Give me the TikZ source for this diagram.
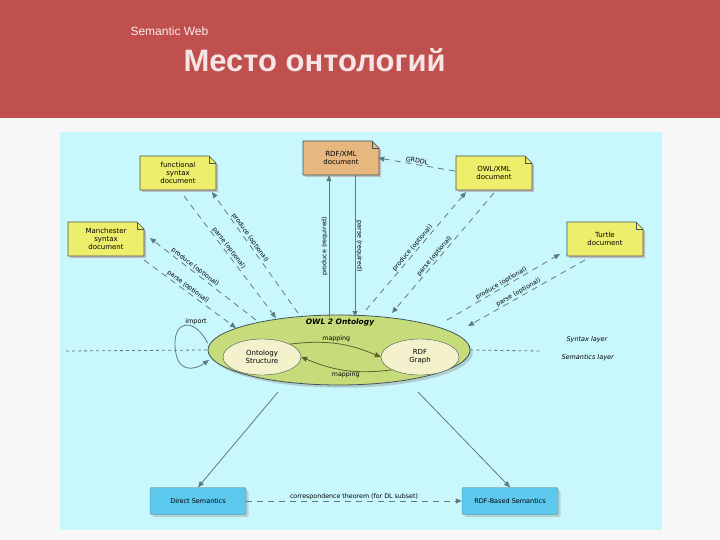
\documentclass[tikz,border=0pt]{standalone}
\usepackage{fontspec}
\setmainfont{DejaVu Sans}
\newfontfamily\titlefont{Liberation Sans}
\usetikzlibrary{shapes.geometric,shapes.misc,arrows.meta,calc,shadows}
\definecolor{hdr}{HTML}{C0504D}
\definecolor{panel}{HTML}{C9F8FC}
\definecolor{docy}{HTML}{EDEF6C}
\definecolor{doco}{HTML}{E6B77E}
\definecolor{ontg}{HTML}{C6DC7A}
\definecolor{inner}{HTML}{F4F2CC}
\definecolor{semb}{HTML}{5CC8EE}
\definecolor{arr}{HTML}{5F7A80}
\tikzset{
 doc/.style={minimum width=74pt,minimum height=34pt,align=center,font=\fontsize{7}{8}\selectfont,inner sep=1pt},
 semb/.style={draw=arr,fill=semb,rounded corners=2pt,minimum width=96pt,minimum height=27pt,font=\fontsize{6.5}{7.5}\selectfont,drop shadow={opacity=0.3}},
 arw/.style={draw=arr,line width=0.8pt,-{Triangle[length=6pt,width=5pt]}},
 dsh/.style={arw,dash pattern=on 6pt off 5pt},
 lbl/.style={font=\fontsize{6.3}{7}\selectfont,sloped,inner sep=1pt},
 lay/.style={font=\itshape\fontsize{6.5}{7.5}\selectfont}
}
\begin{document}
\begin{tikzpicture}[x=1pt,y=-1pt]
\useasboundingbox (0,0) rectangle (720,540);
\fill[white!94!gray] (0,0) rectangle (720,540);
\fill[hdr] (0,0) rectangle (720,118);
\node[anchor=west,text=white!90!hdr,font=\titlefont\fontsize{12}{14}\selectfont] (st) at (127,31) {Semantic Web};
\node[anchor=west,text=white!85!hdr,font=\titlefont\bfseries\fontsize{31}{34}\selectfont] (tt) at (180,60) {Место онтологий};
\fill[panel] (60,132) rectangle (662,530);

% documents
\foreach \n/\x/\y/\c/\t in {fs/140/190/docy/{functional\\syntax\\document},
 ms/68/256/docy/{Manchester\\syntax\\document},
 rx/303/175/doco/{RDF/XML\\document},
 ox/456/190/docy/{OWL/XML\\document},
 tu/567/256/docy/{Turtle\\document}}{
 \fill[black!25] (\x+2,\y+2) -- ++(0,-34) -- ++(69,0) -- ++(7,7) -- ++(0,27) -- cycle;
 \filldraw[draw=arr!70!black,fill=\c,line width=0.6pt] (\x,\y) -- ++(0,-34) -- ++(69,0) -- ++(7,7) -- ++(0,27) -- cycle;
 \draw[arr!70!black,line width=0.6pt] (\x+69,\y-34) -- ++(0,7) -- ++(7,0);
 \node[doc] (\n) at (\x+38,\y-17) {\t};
}

% ontology
\node[ellipse,draw=arr!70!black,fill=ontg,line width=0.8pt,minimum width=262pt,minimum height=70pt,drop shadow={opacity=0.35}] (owl) at (339,350) {};
\node[font=\bfseries\itshape\fontsize{7.5}{9}\selectfont] (owlt) at (340,322) {OWL 2 Ontology};
\node[ellipse,draw=arr!70!black,fill=inner,minimum width=78pt,minimum height=36pt,align=center,font=\fontsize{7}{8}\selectfont,inner sep=0pt] (os) at (262,357) {Ontology\\Structure};
\node[ellipse,draw=arr!70!black,fill=inner,minimum width=78pt,minimum height=36pt,align=center,font=\fontsize{7}{8}\selectfont,inner sep=0pt] (rg) at (420,357) {RDF\\Graph};
\draw[arw,draw=olive!60!black] (os.north east) to[bend left=15] node[lbl,above,sloped=false] {mapping} (rg.west);
\draw[arw,draw=olive!60!black] (rg.south west) to[bend left=15] node[lbl,below,sloped=false] {mapping} (os.east);

% layer line
\coordinate (l1) at (66,351);
\coordinate (l2) at (540,351);
\draw[arr,line width=0.8pt,dash pattern=on 3pt off 3pt] (l1) -- (owl.west);
\draw[arr,line width=0.8pt,dash pattern=on 3pt off 3pt] (owl.east) -- (l2);
\node[lay,anchor=west] (sl) at (563,340) {Syntax layer};
\node[lay,anchor=west] (sml) at (558,358) {Semantics layer};

% import loop
\draw[arw] (owl.west) ++(0,-7) coordinate (i1) .. controls (195,318) and (175,320) .. (175,343) .. controls (175,375) and (195,370) .. (209,360);
\node[font=\fontsize{6.5}{7.5}\selectfont] (imp) at (196,322) {import};

% RDF/XML
\coordinate (p1) at (329,317);
\coordinate (p2) at (355,317);
\draw[arw] (p1) -- node[lbl,above] {produce (required)} (p1 |- rx.south);
\draw[arw] (p2 |- rx.south) -- node[lbl,above,allow upside down] {parse (required)} (p2);

% functional
\coordinate (f1) at (298,313);
\coordinate (f2) at (276,318);
\coordinate (fs1) at (212,192);
\coordinate (fs2) at (184,196);
\draw[dsh] (f1) -- node[lbl,above,pos=0.6] {produce (optional)} (fs1);
\draw[dsh] (fs2) -- node[lbl,above,pos=0.45] {parse (optional)} (f2);
% manchester
\coordinate (m1) at (256,320);
\coordinate (m2) at (236,328);
\coordinate (ms1) at (150,238);
\coordinate (ms2) at (144,260);
\draw[dsh] (m1) -- node[lbl,above,pos=0.6] {produce (optional)} (ms1);
\draw[dsh] (ms2) -- node[lbl,above,pos=0.45] {parse (optional)} (m2);
% OWL/XML
\coordinate (o1) at (366,310);
\coordinate (o2) at (392,313);
\coordinate (ox1) at (466,192);
\coordinate (ox2) at (494,193);
\draw[dsh] (o1) -- node[lbl,above,pos=0.5] {produce (optional)} (ox1);
\draw[dsh] (ox2) -- node[lbl,above,pos=0.55] {parse (optional)} (o2);
% Turtle
\coordinate (t1) at (447,320);
\coordinate (t2) at (468,326);
\coordinate (tu1) at (560,254);
\coordinate (tu2) at (585,260);
\draw[dsh] (t1) -- node[lbl,above,pos=0.5] {produce (optional)} (tu1);
\draw[dsh] (tu2) -- node[lbl,above,pos=0.55] {parse (optional)} (t2);
% GRDDL
\draw[dsh] (ox.west) ++(-2,-2) coordinate (g1) -- node[lbl,above] {GRDDL} (rx.east);

% semantics
\node[semb] (ds) at (198,501) {Direct Semantics};
\node[semb] (rs) at (510,501) {RDF-Based Semantics};
\coordinate (d1) at (278,392);
\coordinate (r1) at (418,392);
\draw[arw] (d1) -- (ds.north);
\draw[arw] (r1) -- (rs.north);
\draw[dsh] (ds.east) -- node[lbl,above] {correspondence theorem (for DL subset)} (rs.west);
\end{tikzpicture}
\end{document}
